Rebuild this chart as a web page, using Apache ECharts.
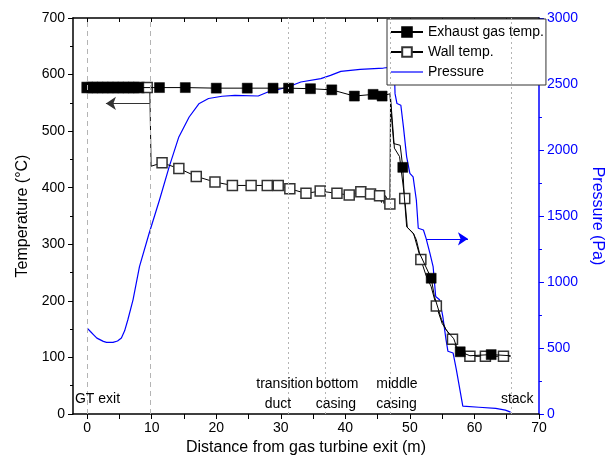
<!DOCTYPE html>
<html><head><meta charset="utf-8">
<script src="https://cdn.jsdelivr.net/npm/echarts@6/dist/echarts.min.js"></script>
<style>html,body{margin:0;padding:0;background:#fff}#c{width:613px;height:469px}</style>
</head><body><div id="c"></div>
<script>
// ---- data ----
const xTickLabels = [0, 10, 20, 30, 40, 50, 60, 70];
const xTicks = [0, 5, 10, 15, 20, 25, 30, 35, 40, 45, 50, 55, 60, 65, 70];

const gasX = [0, 0.8, 1.6, 2.4, 3.2, 4.0, 4.8, 5.6, 6.4, 7.2, 8.0,
  11.2, 15.2, 20.0, 24.8, 28.8, 31.2, 34.6, 37.9, 41.4, 44.3, 45.7,
  46.9, 47.2, 47.5, 48.5, 48.9, 49.1, 49.5, 50.5, 51.0, 51.5, 53.3, 53.8,
  54.9, 55.6, 56.8, 57.2, 57.8, 59.3, 62.6, 65.6];
const gasY = [577, 577, 577, 577, 577, 577, 577, 577, 577, 577, 577,
  577, 577, 576, 576, 576, 576, 575, 573, 562, 565, 562,
  566, 519, 478, 475, 436, 390, 331, 320, 308, 284, 240, 208,
  167, 149, 133, 120, 110, 103, 105, 103];
const gasMarked = [1,1,1,1,1,1,1,1,1,1,1,
  1,1,1,1,1,1,1,1,1,1,1,
  0,0,0,0,1,0,0,0,0,0,1,0,
  0,0,0,0,1,0,1,0];

const wallX = [0, 0.8, 1.6, 2.4, 3.2, 4.0, 4.8, 5.6, 6.4, 7.2, 8.0,
  9.3, 9.7, 9.9, 11.6, 14.2, 16.9, 19.8, 22.5, 25.4, 27.9, 29.6, 31.4, 33.9,
  36.1, 38.7, 40.6, 42.4, 43.9, 45.3, 45.6, 45.8, 46.0, 46.2, 46.9, 47.0,
  47.6, 48.4, 49.2, 49.6, 50.6, 51.7, 52.5, 53.3, 54.1, 55.0, 56.6, 57.4,
  59.3, 61.7, 64.5, 65.6];
const wallY = [577, 577, 577, 577, 577, 577, 577, 577, 577, 577, 577,
  577, 577, 438, 444, 434, 420, 410, 404, 404, 404, 404, 398, 390,
  394, 390, 387, 393, 389, 386, 374, 387, 372, 386, 371, 560,
  470, 455, 381, 330, 318, 273, 245, 225, 191, 160, 132, 112,
  102, 102, 102, 102];
const wallMarked = [1,1,1,1,1,1,1,1,1,1,1,
  1,0,0,1,1,1,1,1,1,1,1,1,1,
  1,1,1,1,1,1,0,0,0,0,1,0,
  0,0,1,0,0,1,0,0,1,0,1,0,
  1,1,1,0];

const presX = [0, 0.5, 1.0, 1.5, 2.5, 3.0, 4.0, 4.7, 5.3, 5.8, 6.3, 7.1, 8.1, 9.6,
  11.2, 12.7, 14.2, 15.8, 17.3, 18.8, 20.9, 22.9, 26.5, 28.0, 31.1, 33.1,
  36.2, 37.7, 39.3, 42.3, 45.9, 47.3, 47.6, 47.7, 48.0, 48.6, 49.0, 49.5,
  50.0, 50.5, 51.0, 51.3, 52.1, 52.5, 53.1, 53.6, 54.0, 54.6, 55.1, 55.6,
  55.9, 56.7, 57.2, 58.2, 60.7, 63.3, 64.8, 65.6];
const presY = [651, 625, 600, 575, 550, 543, 543, 553, 576, 630, 714, 865, 1117, 1369,
  1621, 1872, 2099, 2250, 2350, 2390, 2407, 2414, 2409, 2439, 2477, 2515,
  2541, 2565, 2596, 2611, 2621, 2628, 2600, 2427, 2352, 2339, 2175, 1948,
  1823, 1797, 1621, 1407, 1394, 1332, 1218, 1117, 890, 865, 739, 563,
  475, 462, 336, 59, 51, 42, 29, 14];

const sectionX = [0, 9.8, 31.2, 36.9, 46.9, 65.7];
const annotations = [
  {text: 'GT exit', x: -1.9, y: 27},
  {text: 'transition', x: 26.2, y: 52},
  {text: 'duct', x: 27.5, y: 17},
  {text: 'bottom', x: 35.4, y: 52},
  {text: 'casing', x: 35.4, y: 17},
  {text: 'middle', x: 44.8, y: 52},
  {text: 'casing', x: 44.8, y: 17},
  {text: 'stack', x: 64.1, y: 27}
];

// ---- chart ----
const FONT = '"Liberation Sans", Arial, sans-serif';
const BLUE = '#0000ff';
function toData(xs, ys, marks) {
  return xs.map((x, i) => ({value: [x, ys[i]], symbol: marks && marks[i] ? 'rect' : 'none'}));
}
const plain = v => String(v);
const chart = echarts.init(document.getElementById('c'));
const axisBase = {
  axisLine: {show: true, onZero: false, lineStyle: {color: '#000', width: 1.5}},
  splitLine: {show: false},
  nameTextStyle: {color: '#000', fontSize: 16, fontFamily: FONT}
};
chart.setOption({
  animation: false,
  backgroundColor: '#fff',
  textStyle: {fontFamily: FONT},
  grid: {left: 73, right: 69, top: 18, bottom: 55, containLabel: false},
  legend: {
    orient: 'vertical', left: 387, top: 19,
    backgroundColor: '#fff', borderColor: '#333', borderWidth: 1, borderRadius: 0,
    padding: [6, 2, 6, 3], itemWidth: 32, itemHeight: 12, itemGap: 6,
    textStyle: {fontSize: 14, color: '#000', fontFamily: FONT},
    data: ['Exhaust gas temp.', 'Wall temp.', {name: 'Pressure', icon: 'path://M0,0H32V1.2H0Z'}]
  },
  xAxis: [
    Object.assign({}, axisBase, {
      type: 'value', min: -2.2, max: 70, position: 'bottom',
      name: 'Distance from gas turbine exit (m)', nameLocation: 'middle', nameGap: 23,
      axisTick: {show: true, inside: false, length: 5, customValues: xTicks, lineStyle: {color: '#000'}},
      axisLabel: {color: '#000', fontSize: 14, fontFamily: FONT, margin: 7, customValues: xTickLabels, formatter: plain}
    }),
    Object.assign({}, axisBase, {
      type: 'value', min: -2.2, max: 70, position: 'top',
      axisTick: {show: true, inside: true, length: 4, customValues: xTicks, lineStyle: {color: '#000'}},
      axisLabel: {show: false}
    })
  ],
  yAxis: [
    Object.assign({}, axisBase, {
      type: 'value', min: 0, max: 700, interval: 100, position: 'left',
      name: 'Temperature (°C)', nameLocation: 'middle', nameGap: 42,
      axisTick: {show: true, length: 5, lineStyle: {color: '#000'}},
      minorTick: {show: true, splitNumber: 2, length: 3, lineStyle: {color: '#000'}},
      axisLabel: {color: '#000', fontSize: 14, fontFamily: FONT, formatter: plain}
    }),
    {
      type: 'value', min: 0, max: 3000, interval: 500, position: 'right',
      name: 'Pressure (Pa)', nameLocation: 'middle', nameGap: 48, nameRotate: -90,
      nameTextStyle: {color: BLUE, fontSize: 16, fontFamily: FONT},
      axisLine: {show: true, onZero: false, lineStyle: {color: BLUE, width: 1.5}},
      axisTick: {show: true, length: 5, lineStyle: {color: BLUE}},
      minorTick: {show: true, splitNumber: 2, length: 3, lineStyle: {color: BLUE}},
      axisLabel: {color: BLUE, fontSize: 14, fontFamily: FONT, formatter: plain},
      splitLine: {show: false}
    }
  ],
  series: [
    {
      name: 'Pressure', type: 'line', xAxisIndex: 0, yAxisIndex: 1, z: 1,
      symbol: 'none', data: toData(presX, presY, null),
      lineStyle: {color: BLUE, width: 1.2}, itemStyle: {color: BLUE},
      markLine: {
        silent: true, symbol: ['none', 'arrow'], symbolSize: 10,
        label: {show: false},
        lineStyle: {color: BLUE, width: 1.2, type: 'solid'},
        data: [[{coord: [52.5, 1327]}, {coord: [59.0, 1327]}]]
      }
    },
    {
      name: 'Wall temp.', type: 'line', xAxisIndex: 0, yAxisIndex: 0, z: 2,
      symbol: 'rect', symbolSize: 10, data: toData(wallX, wallY, wallMarked),
      lineStyle: {color: '#000', width: 1},
      itemStyle: {color: '#fff', borderColor: '#333', borderWidth: 1.5},
      markLine: {
        silent: true, symbol: ['none', 'none'], label: {show: false},
        data: sectionX.map((v, i) => ({
          xAxis: v,
          lineStyle: {color: '#b4b4b4', width: 1, type: i < 2 ? [5, 4] : [2, 3]}
        }))
      }
    },
    {
      name: 'Exhaust gas temp.', type: 'line', xAxisIndex: 0, yAxisIndex: 0, z: 3,
      symbol: 'rect', symbolSize: 10, data: toData(gasX, gasY, gasMarked),
      lineStyle: {color: '#000', width: 1},
      itemStyle: {color: '#000', borderColor: '#000', borderWidth: 0.5},
      markLine: {
        silent: true, symbol: ['none', 'arrow'], symbolSize: 10,
        label: {show: false},
        lineStyle: {color: '#333', width: 1.2, type: 'solid'},
        data: [[{coord: [9.7, 549]}, {coord: [2.9, 549]}]]
      }
    }
  ]
});
// annotations placed in data space
const gfx = annotations.map(a => {
  const p = chart.convertToPixel({xAxisIndex: 0, yAxisIndex: 0}, [a.x, a.y]);
  return {type: 'text', x: p[0], y: p[1], z: 10,
    style: {text: a.text, fill: '#000', font: '14px ' + FONT, align: 'left', verticalAlign: 'middle'}};
});
chart.setOption({graphic: gfx});
</script>
</body></html>
